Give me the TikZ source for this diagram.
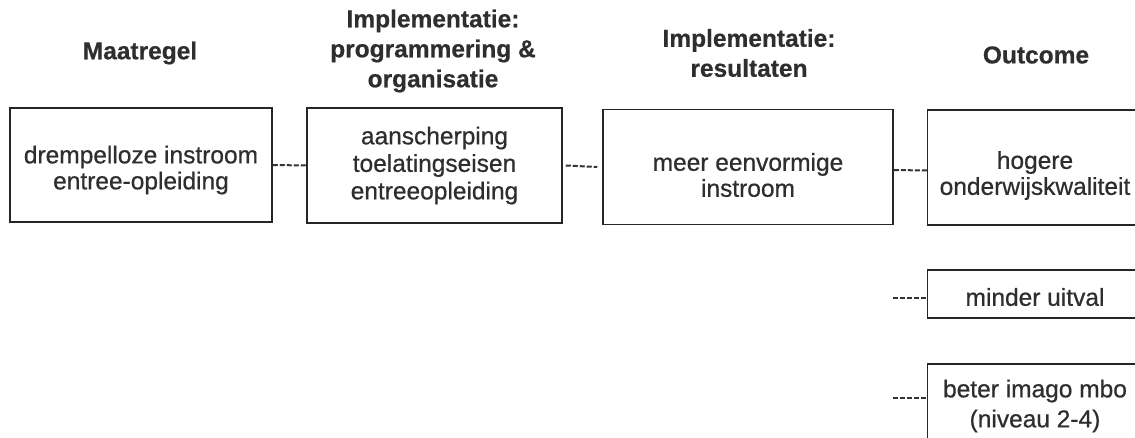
\documentclass[tikz,border=0pt]{standalone}
\usepackage{fontspec}
\setmainfont{Liberation Sans}
\newfontfamily\boxfnt[FakeBold=0.6]{Liberation Sans}
\newfontfamily\headfnt[FakeBold=0.5]{Liberation Sans Bold}
\begin{document}
\begin{tikzpicture}[x=1pt,y=-1pt,
  boxnode/.style={draw=black!85, line width=1.5pt, rectangle, inner sep=0pt},
  txtnode/.style={align=center, inner sep=0pt, font=\boxfnt\fontsize{24.5}{26}\selectfont, text=black!82},
  headnode/.style={align=center, font=\headfnt\fontsize{24.5}{30}\selectfont, text=black!82},
  conn/.style={draw=black!80, line width=2pt, dash pattern=on 5pt off 2pt}]
\clip (0,0) rectangle (1135,438);
\fill[white] (0,0) rectangle (1135,438);
% headers
\node[headnode] (h1) at (140,53) {Maatregel};
\node[headnode] (h2) at (433,51) {Implementatie:\\programmering \&\\organisatie};
\node[headnode] (h3) at (749,53) {Implementatie:\\resultaten};
\node[headnode] (h4) at (1036,55) {Outcome};
% boxes
\node[boxnode, minimum width=262pt, minimum height=114pt] (b1) at (141,165) {};
\node[boxnode, minimum width=255pt, minimum height=115pt] (b2) at (434.5,165.5) {};
\node[boxnode, minimum width=290pt, minimum height=115pt] (b3) at (748,167) {};
\node[boxnode, minimum width=215pt, minimum height=115pt] (b4) at (1035,167.5) {};
\node[boxnode, minimum width=215pt, minimum height=48pt] (b5) at (1035,294) {};
\node[boxnode, minimum width=215pt, minimum height=82pt] (b6) at (1035,405) {};
% box texts
\node[txtnode] (t1) at ([yshift=-5pt]b1.center) {drempelloze instroom\\entree-opleiding};
\node[txtnode, font=\boxfnt\fontsize{24.5}{27.5}\selectfont] (t2) at (b2.center) {aanscherping\\toelatingseisen\\entreeopleiding};
\node[txtnode] (t3) at ([yshift=-8pt]b3.center) {meer eenvormige\\instroom};
\node[txtnode] (t4) at ([yshift=-8pt]b4.center) {hogere\\onderwijskwaliteit};
\node[txtnode] (t5) at ([yshift=-3pt]b5.center) {minder uitval};
\node[txtnode, font=\boxfnt\fontsize{24.5}{30}\selectfont] (t6) at ([yshift=-1pt]b6.center) {beter imago mbo\\(niveau 2-4)};
% connectors
\coordinate (c5) at (893,298);
\coordinate (c6) at (893,398);
\draw[conn] (b1.east) -- (b2.west);
\draw[conn] ([xshift=3pt]b2.east) -- ([xshift=-5pt]b3.west);
\draw[conn] ([yshift=-3pt]b3.east) -- ([yshift=-3pt]b4.west);
\draw[conn] (c5) -- (c5 -| b5.west);
\draw[conn] (c6) -- (c6 -| b6.west);
\end{tikzpicture}
\end{document}
